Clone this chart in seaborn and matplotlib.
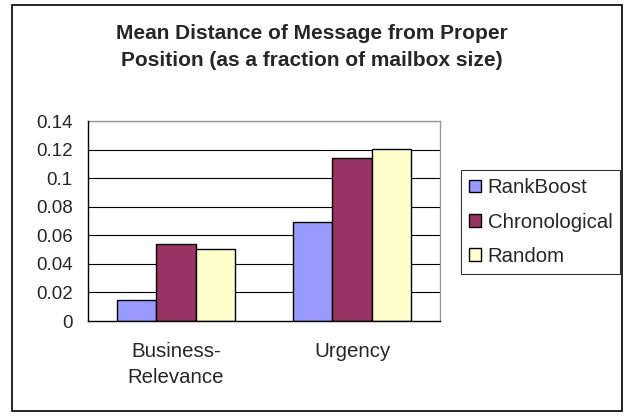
import pandas as pd
import numpy as np
import matplotlib.pyplot as plt
import seaborn as sns
from matplotlib.patches import Rectangle

# Data
categories = ['Business-\nRelevance', 'Urgency']
methods = ['RankBoost', 'Chronological', 'Random']
rankboost = [0.0145, 0.069]
chronological = [0.0537, 0.114]
random_ = [0.0502, 0.1206]
yticks = [0, 0.02, 0.04, 0.06, 0.08, 0.1, 0.12, 0.14]
ytick_labels = ['0', '0.02', '0.04', '0.06', '0.08', '0.1', '0.12', '0.14']

df = pd.DataFrame({
    'category': categories * 3,
    'method': [m for m in methods for _ in categories],
    'value': rankboost + chronological + random_,
})

sns.set_style('white')
plt.rcParams['font.family'] = ['Liberation Sans', 'DejaVu Sans']

fig = plt.figure(figsize=(6.24, 4.17), dpi=100)
ax = fig.add_axes([88 / 624, 1 - 321 / 417, 352 / 624, 200 / 417])

palette = {'RankBoost': '#9999FF', 'Chronological': '#993366', 'Random': '#FFFFCC'}
sns.barplot(data=df, x='category', y='value', hue='method', palette=palette,
            width=0.665, edgecolor='black', linewidth=1.0, saturation=1,
            ax=ax, zorder=3)

ax.set_ylim(0, 0.14)
ax.set_yticks(yticks)
ax.set_yticklabels(ytick_labels, fontsize=13.5)
ax.set_xlim(-0.5, 1.5)
ax.set_xticks([-0.5, 0.5, 1.5], minor=False)
ax.set_xticklabels([])
ax.set_xticks([0, 1], minor=True)
ax.set_xticklabels(categories, minor=True, fontsize=14.7, linespacing=1.5)
ax.tick_params(axis='x', which='minor', length=0, pad=15)
ax.tick_params(axis='x', which='major', direction='out', length=6, width=1, colors='black')
ax.tick_params(axis='y', direction='out', length=5, width=1, pad=6)
ax.set_xlabel('')
ax.set_ylabel('')

for y in yticks[1:]:
    ax.axhline(y, color='black', lw=0.8, zorder=1)

for side in ['top', 'right']:
    ax.spines[side].set_color('#999999')
    ax.spines[side].set_linewidth(1)
for side in ['left', 'bottom']:
    ax.spines[side].set_color('black')
    ax.spines[side].set_linewidth(1)
    ax.spines[side].set_zorder(4)

leg = ax.legend(loc='center left', bbox_to_anchor=(461 / 624, 1 - 222 / 417),
                bbox_transform=fig.transFigure, frameon=True, fancybox=False,
                fontsize=14.7, handlelength=0.6, handleheight=0.6,
                handletextpad=0.3, labelspacing=0.75, borderpad=0.4,
                borderaxespad=0)
leg.get_frame().set_edgecolor('black')
leg.get_frame().set_linewidth(0.8)
for h in leg.legend_handles:
    h.set_edgecolor('black')

fig.text(0.5, 1 - 47 / 417, 'Mean Distance of Message from Proper\nPosition (as a fraction of mailbox size)',
         ha='center', va='center', fontsize=15, fontweight='bold', linespacing=1.5)

fig.patches.append(Rectangle((12 / 624, 1 - 411 / 417), 610 / 624, 406 / 417,
                             transform=fig.transFigure, fill=False,
                             edgecolor='black', lw=1.2))

fig.savefig('out.png', dpi=100)
